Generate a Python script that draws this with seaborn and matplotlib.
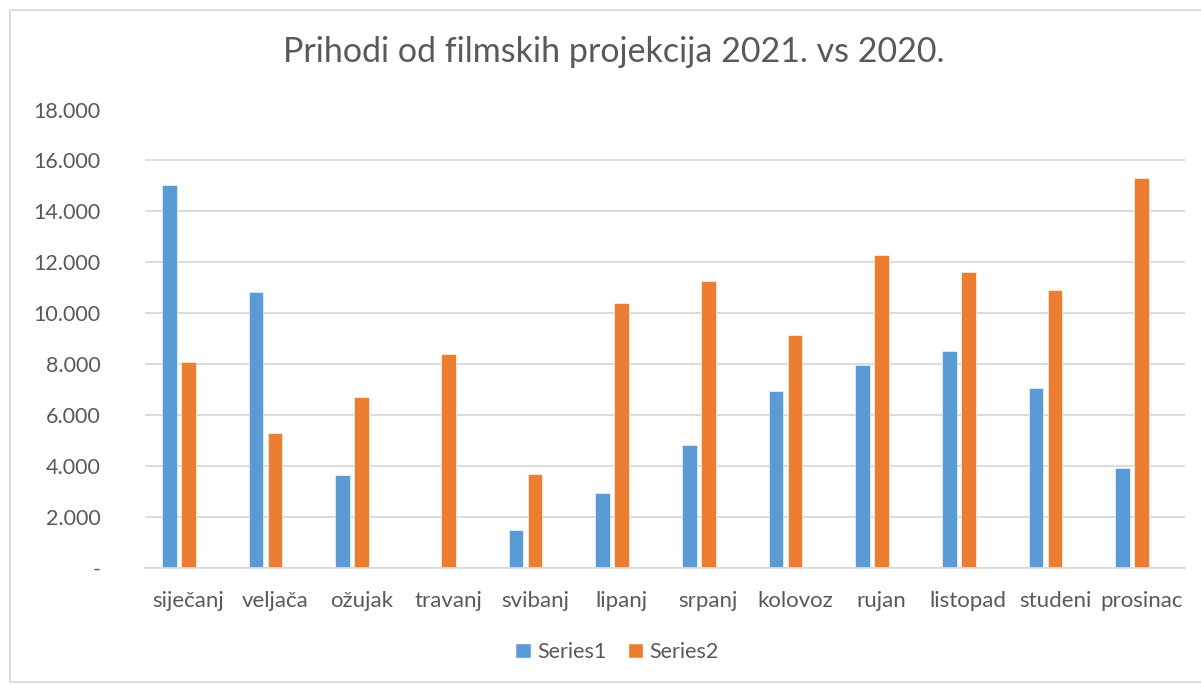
import numpy as np
import pandas as pd
import seaborn as sns
import matplotlib.pyplot as plt
from matplotlib.patches import Patch, Rectangle
from matplotlib.ticker import FuncFormatter, FixedLocator

# data
months = ['siječanj', 'veljača', 'ožujak', 'travanj', 'svibanj', 'lipanj',
          'srpanj', 'kolovoz', 'rujan', 'listopad', 'studeni', 'prosinac']
series1 = [15020, 10840, 3620, 0, 1480, 2910, 4820, 6920, 7940, 8510, 7040, 3910]
series2 = [8070, 5270, 6720, 8400, 3680, 10380, 11270, 9150, 12290, 11600, 10890, 15300]
series_names = ['Series1', 'Series2']
# excel chart has a third (empty) series slot, that's why bars sit left of centre
slots = ['Series1', 'Series2', 'Series3']
colors = {'Series1': '#5B9BD5', 'Series2': '#ED7D31', 'Series3': '#A5A5A5'}

df = pd.DataFrame({
    'mjesec': months * 2,
    'serija': ['Series1'] * len(months) + ['Series2'] * len(months),
    'prihod': series1 + series2,
})

sns.set_style('white')
plt.rcParams['font.family'] = ['Lato', 'DejaVu Sans']
txt = '#595959'
grid = '#D9D9D9'

fig = plt.figure(figsize=(12.01, 6.84), dpi=100)
ax = fig.add_axes([145 / 1201, 1 - 567.5 / 684, 1040 / 1201, 458 / 684])

sns.barplot(data=df, x='mjesec', y='prihod', hue='serija', hue_order=slots,
            palette=colors, width=0.66, gap=0.23, saturation=1, legend=False,
            edgecolor='white', linewidth=0.4, ax=ax)

ax.set_ylim(0, 18000)
ax.set_xlim(-0.5, len(months) - 0.5)
ax.set_yticks(np.arange(0, 18001, 2000))
ax.yaxis.set_major_formatter(FuncFormatter(
    lambda v, p: '-' if v == 0 else f'{int(v):,}'.replace(',', '.')))
ax.yaxis.grid(True, color=grid, linewidth=1.3)
ax.set_axisbelow(True)
for s in ['top', 'right', 'left']:
    ax.spines[s].set_visible(False)
ax.spines['bottom'].set_color(grid)
ax.spines['bottom'].set_linewidth(1.3)

ax.xaxis.set_minor_locator(FixedLocator(np.arange(-0.5, len(months), 1)))
ax.tick_params(axis='x', which='minor', length=7, width=1.3, color=grid)
ax.tick_params(axis='x', which='major', length=0, pad=17, labelsize=16, labelcolor=txt)
ax.tick_params(axis='y', length=0, pad=32, labelsize=15.5, labelcolor=txt)
ax.set_xlabel('')
ax.set_ylabel('')

fig.text(613.5 / 1201, 1 - 52 / 684, 'Prihodi od filmskih projekcija 2021. vs 2020.',
         ha='center', va='center', fontsize=24.5, color=txt)

handles = [Patch(facecolor=colors[n]) for n in series_names]
fig.legend(handles, series_names, loc='center', bbox_to_anchor=(617 / 1201, 1 - 652 / 684),
           ncol=2, frameon=False, fontsize=15.5, labelcolor=txt, handlelength=0.7,
           handleheight=0.7, handletextpad=0.3, columnspacing=1.0)

# light border round the chart area
fig.patches.append(Rectangle((10 / 1201, 2 / 684), 1195 / 1201, 672 / 684,
                             transform=fig.transFigure, fill=False,
                             edgecolor=grid, linewidth=1.3))

fig.savefig('out.png', dpi=100)
